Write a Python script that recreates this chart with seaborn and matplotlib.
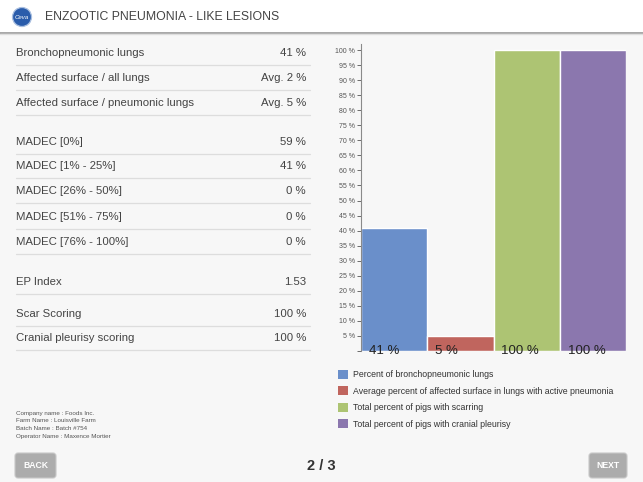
#Enzootic pneumonia - like lesions (pantalla 2/3)

import pandas as pd
import matplotlib.pyplot as plt
import seaborn as sns
from matplotlib.patches import Patch, Rectangle, Circle, FancyBboxPatch

# Datos de la grafica
categorias = ['Percent of bronchopneumonic lungs',
              'Average percent of affected surface in lungs with active pneumonia',
              'Total percent of pigs with scarring',
              'Total percent of pigs with cranial pleurisy']
valores = [41, 5, 100, 100]
colores = ['#6a8fca', '#c0655e', '#adc473', '#8b77ae']
ticks_y = list(range(5, 101, 5))

# Datos de la tabla de la izquierda
filas = ['Bronchopneumonic lungs', 'Affected surface / all lungs', 'Affected surface / pneumonic lungs',
         'MADEC [0%]', 'MADEC [1% - 25%]', 'MADEC [26% - 50%]', 'MADEC [51% - 75%]', 'MADEC [76% - 100%]',
         'EP Index', 'Scar Scoring', 'Cranial pleurisy scoring']
valores_filas = ['41 %', 'Avg. 2 %', 'Avg. 5 %', '59 %', '41 %', '0 %', '0 %', '0 %', '1.53', '100 %', '100 %']
y_filas = [53, 78, 103, 142, 166, 191, 217, 242, 282, 314, 338]

info = ['Company name : Foods Inc.', 'Farm Name : Louisville Farm',
        'Batch Name : Batch #754', 'Operator Name : Maxence Mortier']

df = pd.DataFrame({'cat': categorias, 'val': valores})

sns.set_style('white')
plt.rcParams['font.family'] = ['Liberation Sans', 'DejaVu Sans']

fondo = '#f7f7f7'
fig = plt.figure(figsize=(6.43, 4.82), dpi=100, facecolor=fondo)

# capa en pixeles para la interfaz
ov = fig.add_axes([0, 0, 1, 1], zorder=0)
ov.set_xlim(0, 643)
ov.set_ylim(482, 0)
ov.axis('off')
ov.set_facecolor(fondo)

# cabecera
ov.add_patch(Rectangle((0, 0), 643, 32, facecolor='white', edgecolor='none'))
ov.plot([0, 643], [32.5, 32.5], color='#9a9a9a', lw=1.2)
ov.plot([0, 643], [34, 34], color='#dedede', lw=1)
ov.add_patch(Circle((22, 17), 9.5, facecolor='#2a5cab', edgecolor='#a9bfe0', lw=0.9))
ov.text(22, 17.5, 'Ceva', color='white', fontsize=4.4, ha='center', va='center', style='italic')
ov.text(45, 17, 'ENZOOTIC PNEUMONIA - LIKE LESIONS', fontsize=8.8, color='#444444', va='center')

# tabla
for nombre, val, y in zip(filas, valores_filas, y_filas):
    ov.text(16, y, nombre, fontsize=8.2, color='#444444', va='center')
    ov.text(306, y, val, fontsize=8.2, color='#444444', va='center', ha='right')
    ov.plot([16, 310], [y + 12, y + 12], color='#dddddd', lw=0.9)

for i, t in enumerate(info):
    ov.text(16, 413 + i * 7.8, t, fontsize=4.5, color='#555555', va='center')

# botones
for x0, w, txt in [(15, 41, 'BACK'), (589, 38, 'NEXT')]:
    ov.add_patch(FancyBboxPatch((x0, 453), w, 25, boxstyle='round,pad=0,rounding_size=3',
                                facecolor='#acacac', edgecolor='#c8c8c8', lw=0.8))
    ov.text(x0 + w / 2, 466, txt, fontsize=6.2, color='white', weight='bold', ha='center', va='center')
ov.text(321, 466, '2 / 3', fontsize=10.5, color='#333333', weight='bold', ha='center', va='center')

# grafica de barras
ax = fig.add_axes([361 / 643, 1 - 351 / 482, 265 / 643, 307 / 482], zorder=2)
ax.set_facecolor('none')
sns.barplot(data=df, x='cat', y='val', hue='cat', palette=colores, width=1,
            saturation=1, legend=False, ax=ax)
ax.set_xlim(-0.5, 3.5)
ax.set_ylim(0, 102)
ax.set_xticks([])
ax.set_yticks([0] + ticks_y)
ax.set_yticklabels([''] + [f'{t} %' for t in ticks_y])
ax.tick_params(axis='y', labelsize=5, colors='#555555', length=3, width=0.6, pad=1.5, left=True)
ax.set_xlabel('')
ax.set_ylabel('')
sns.despine(ax=ax, bottom=True, right=True, top=True)
ax.spines['left'].set_color('#8a8a8a')
ax.spines['left'].set_linewidth(0.8)

for i, v in enumerate(valores):
    ax.text(i - 0.38, 0, f'{v} %', fontsize=9.5, color='#222222', ha='left', va='center', clip_on=False)

# leyenda
handles = [Patch(facecolor=c, edgecolor='none') for c in colores]
fig.legend(handles=handles, labels=categorias, loc='upper left',
           bbox_to_anchor=(338 / 643, 1 - 370 / 482), frameon=False, fontsize=6.3,
           handlelength=1.14, handleheight=1.14, labelspacing=0.82, handletextpad=0.56,
           borderaxespad=0, borderpad=0, labelcolor='#333333')

plt.savefig('out.png', dpi=100, facecolor=fondo)
